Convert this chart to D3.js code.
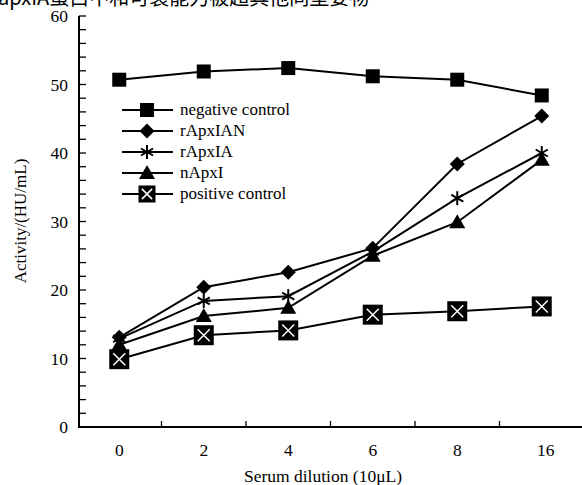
<!DOCTYPE html>
<html><head><meta charset="utf-8">
<script src="https://cdn.jsdelivr.net/npm/d3@7"></script>
<style>body{margin:0;background:#fff}svg{display:block}</style>
</head><body>
<svg id="c" width="582" height="485"></svg>
<script>
const categories = ["0","2","4","6","8","16"];
const negativeControl = [50.7, 51.9, 52.4, 51.2, 50.7, 48.4];
const rApxIAN = [13.1, 20.4, 22.6, 26.1, 38.4, 45.4];
const rApxIA = [12.9, 18.4, 19.1, 25.6, 33.4, 40.0];
const nApxI = [12.0, 16.2, 17.4, 25.0, 29.9, 39.0];
const positiveControl = [9.9, 13.4, 14.1, 16.4, 16.9, 17.6];
const seriesNames = ["negative control","rApxIAN","rApxIA","nApxI","positive control"];
const yTicks = [0,10,20,30,40,50,60];
const yMinorTicks = d3.range(0, 61, 2);

const series = [
  {name: seriesNames[0], values: negativeControl, marker: "square"},
  {name: seriesNames[1], values: rApxIAN, marker: "diamond"},
  {name: seriesNames[2], values: rApxIA, marker: "star"},
  {name: seriesNames[3], values: nApxI, marker: "triangle"},
  {name: seriesNames[4], values: positiveControl, marker: "xsquare"}
];

const svg = d3.select("#c");
const font = "'Liberation Serif','Times New Roman',serif";
const x = d3.scaleBand().domain(categories).range([77, 584]);
const y = d3.scaleLinear().domain([0, 60]).range([427, 16]);
const cx = c => x(c) + x.bandwidth() / 2;

// clipped caption at top (partly outside the picture, as in the source)
svg.append("text").attr("x", -2).attr("y", 5)
  .attr("font-family", "'Noto Sans CJK SC', serif").attr("font-size", 20).attr("fill", "#000")
  .text("apxIA蛋白中和可装能力被超其他同型要物");

// axes
const axisX = 79;
svg.append("line").attr("x1", axisX).attr("x2", axisX).attr("y1", y(60)).attr("y2", y(0))
  .attr("stroke", "#000").attr("stroke-width", 2);
svg.append("line").attr("x1", axisX - 1).attr("x2", 582).attr("y1", y(0)).attr("y2", y(0))
  .attr("stroke", "#000").attr("stroke-width", 2);
svg.selectAll(".ymt").data(yMinorTicks).enter().append("line")
  .attr("x1", axisX).attr("x2", axisX + 7).attr("y1", d => y(d)).attr("y2", d => y(d))
  .attr("stroke", "#000").attr("stroke-width", 1.3);
svg.selectAll(".ytl").data(yTicks).enter().append("text")
  .attr("x", 68).attr("y", d => y(d) + 6).attr("text-anchor", "end")
  .attr("font-family", font).attr("font-size", 17.5).text(d => d);
// x ticks at band boundaries
svg.selectAll(".xt").data(categories.slice(1)).enter().append("line")
  .attr("x1", d => x(d)).attr("x2", d => x(d)).attr("y1", y(0)).attr("y2", y(0) - 6)
  .attr("stroke", "#000").attr("stroke-width", 1.3);
svg.selectAll(".xtl").data(categories).enter().append("text")
  .attr("x", d => cx(d) + (d.length > 1 ? 4 : 0)).attr("y", 456).attr("text-anchor", "middle")
  .attr("font-family", font).attr("font-size", 17.5).text(d => d);
svg.append("text").attr("x", 323).attr("y", 482).attr("text-anchor", "middle")
  .attr("font-family", font).attr("font-size", 17.5).text("Serum dilution (10μL)");
svg.append("text").attr("transform", "translate(26,221) rotate(-90)").attr("text-anchor", "middle")
  .attr("font-family", font).attr("font-size", 17).text("Activity/(HU/mL)");

function drawMarker(g, type, px, py, scale) {
  const s = scale || 1;
  if (type === "square") {
    g.append("rect").attr("x", px - 7*s).attr("y", py - 7*s).attr("width", 14*s).attr("height", 14*s).attr("fill", "#000");
  } else if (type === "diamond") {
    const r = 7.5*s;
    g.append("path").attr("d", `M${px},${py-r}L${px+r},${py}L${px},${py+r}L${px-r},${py}Z`).attr("fill", "#000");
  } else if (type === "star") {
    const r = 7*s;
    [[0,1],[0.866,0.5],[0.866,-0.5]].forEach(([a,b]) => {
      g.append("line").attr("x1", px - a*r).attr("x2", px + a*r).attr("y1", py - b*r).attr("y2", py + b*r)
        .attr("stroke", "#000").attr("stroke-width", 2);
    });
  } else if (type === "triangle") {
    const r = 8*s;
    g.append("path").attr("d", `M${px},${py-r}L${px+r},${py+r*0.75}L${px-r},${py+r*0.75}Z`).attr("fill", "#000");
  } else if (type === "xsquare") {
    const h = 10*s;
    g.append("rect").attr("x", px - h).attr("y", py - h).attr("width", 2*h).attr("height", 2*h).attr("fill", "#000");
    const k = 6*s;
    g.append("path").attr("d", `M${px-k},${py-k}L${px+k},${py+k}M${px+k},${py-k}L${px-k},${py+k}`)
      .attr("stroke", "#fff").attr("stroke-width", 1.5);
  }
}

const line = d3.line().x((d, i) => cx(categories[i])).y(d => y(d));
series.forEach(s => {
  svg.append("path").attr("d", line(s.values)).attr("fill", "none").attr("stroke", "#000").attr("stroke-width", 2);
});
series.forEach(s => {
  const g = svg.append("g");
  s.values.forEach((v, i) => drawMarker(g, s.marker, cx(categories[i]), y(v), 1));
});

// legend
const legendY = [110, 131, 152, 173, 194];
series.forEach((s, i) => {
  const g = svg.append("g");
  const ly = legendY[i];
  g.append("line").attr("x1", 122).attr("x2", 173).attr("y1", ly).attr("y2", ly).attr("stroke", "#000").attr("stroke-width", 2);
  drawMarker(g, s.marker, 147, ly, s.marker === "xsquare" ? 0.85 : 1);
  g.append("text").attr("x", 180).attr("y", ly + 5).attr("font-family", font).attr("font-size", 17).text(s.name);
});
</script>
</body></html>
